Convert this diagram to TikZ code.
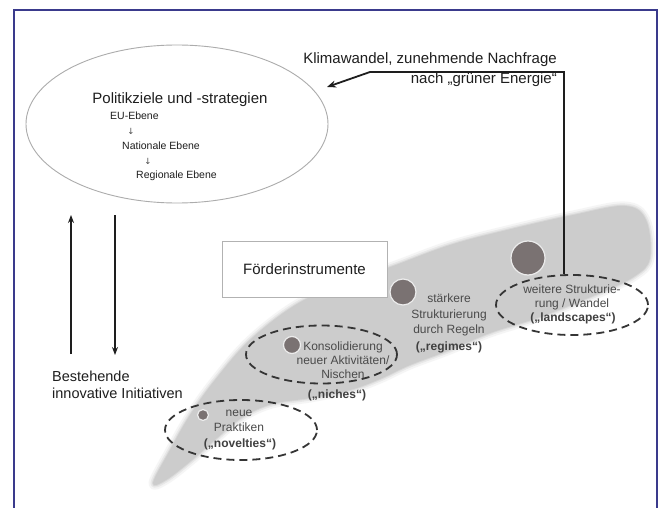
\documentclass[tikz,border=0pt]{standalone}
\usepackage{fontspec}
\setmainfont{Liberation Sans}
\newfontfamily\dejavu{DejaVu Sans}
\usetikzlibrary{arrows.meta,shapes.geometric}
\definecolor{framecol}{HTML}{3A3A8C}
\definecolor{swooshin}{HTML}{CCCCCC}
\definecolor{dotcol}{HTML}{7A7272}
\definecolor{txtdark}{HTML}{1E1E1E}
\definecolor{txtgray}{HTML}{4A4A4A}
\tikzset{
  bigtext/.style={font=\fontsize{15}{20}\selectfont, text=txtdark, inner sep=0pt},
  midtext/.style={font=\fontsize{10.5}{12}\selectfont, text=txtdark, inner sep=0pt},
  arrowglyph/.style={font=\dejavu\fontsize{8.5}{9}\selectfont, text=txtgray, inner sep=0pt},
  smalltext/.style={font=\fontsize{12}{14.5}\selectfont, text=txtgray, inner sep=0pt, align=center},
  boldtext/.style={font=\fontsize{12}{14.5}\selectfont\bfseries, text=txtdark!85, inner sep=0pt},
  dashell/.style={ellipse, draw=txtdark!90, line width=1.8pt, dash pattern=on 8pt off 5pt, inner sep=0pt},
  dotnode/.style={circle, fill=dotcol, draw=white!85!gray, line width=1.2pt, inner sep=0pt},
  thickarr/.style={line width=1.8pt, draw=txtdark, -{Stealth[length=9pt,width=7pt]}},
  vertarr/.style={line width=1.8pt, draw=txtdark, -{Stealth[length=8pt,width=6pt]}},
}
\def\swooshpath{plot[smooth cycle, tension=0.6] coordinates {
 (153,483) (170,450) (190,415) (215,380) (250,340) (297,304) (345,283)
 (393,266) (450,245) (507,230) (573,215) (625,206) (646,220) (650,258)
 (635,276) (600,293) (540,317) (490,333) (450,350) (410,365) (380,379)
 (350,390) (310,398) (272,404) (243,417) (217,438) (192,460) (166,480)}}
\begin{document}
\begin{tikzpicture}[x=1pt,y=-1pt]
\useasboundingbox (0,0) rectangle (661,508);
\fill[white] (0,0) rectangle (661,508);
% frame
\draw[framecol, line width=2pt] (14,509) -- (14,10) -- (657,10) -- (657,509);

% swoosh with soft edge
\draw[swooshin, line width=9pt, opacity=0.18, line join=round] \swooshpath;
\draw[swooshin, line width=5pt, opacity=0.3, line join=round] \swooshpath;
\draw[swooshin, line width=2pt, opacity=0.5, line join=round] \swooshpath;
\fill[swooshin] \swooshpath;

% policy ellipse
\node[ellipse, draw=gray!65, line width=0.9pt, minimum width=302pt, minimum height=158pt, inner sep=0pt] (pol) at (177,124) {};
\node[bigtext] (poltitle) at (180,100) {Politikziele und -strategien};
\node[midtext, anchor=west] (eu) at (110,116) {EU-Ebene};
\node[arrowglyph] (ar1) at (131,131) {↓};
\node[midtext, anchor=west] (nat) at (122,146) {Nationale Ebene};
\node[arrowglyph] (ar2) at (148,161) {↓};
\node[midtext, anchor=west] (reg) at (136,176) {Regionale Ebene};

% vertical arrows
\coordinate (upS) at (71,354);
\coordinate (upE) at (71,215);
\coordinate (dnS) at (115,215);
\coordinate (dnE) at (115,355);
\draw[vertarr] (upS) -- (upE);
\draw[vertarr] (dnS) -- (dnE);

\node[font=\fontsize{14.5}{17}\selectfont, text=txtdark, inner sep=0pt, align=left, anchor=west] (init) at (52,385) {Bestehende\\innovative Initiativen};

% Foerderinstrumente box
\node[draw=gray!60, line width=0.9pt, fill=white, minimum width=165pt, minimum height=56pt, inner sep=0pt, font=\fontsize{15}{18}\selectfont, text=txtdark] (foe) at (304.5,269) {Förderinstrumente};

% Klimawandel text
\node[bigtext, align=right, anchor=east] (klima) at (557,70) {Klimawandel, zunehmende Nachfrage\\nach „grüner Energie“};

% dashed ellipses
\node[dashell, minimum width=152pt, minimum height=60pt] (eNov) at (241,430) {};
\node[dashell, minimum width=151pt, minimum height=58pt] (eNic) at (321.5,354.5) {};
\node[dashell, minimum width=152pt, minimum height=60pt] (eLan) at (572,305) {};

% dots
\node[dotnode, minimum size=11pt] (dNov) at (203,415) {};
\node[dotnode, minimum size=17pt] (dNic) at (292,345) {};
\node[dotnode, minimum size=26pt] (dReg) at (403,292) {};
\node[dotnode, minimum size=34pt] (dLan) at (528,258) {};

% labels
\node[smalltext] (tNov) at (239,421) {neue\\Praktiken};
\node[boldtext] (bNov) at (240,444.5) {(„novelties“)};
\node[smalltext, font=\fontsize{12}{14}\selectfont] (tNic) at (343,360) {Konsolidierung\\neuer Aktivitäten/\\Nischen};
\node[boldtext] (bNic) at (337,395) {(„niches“)};
\node[smalltext, font=\fontsize{12}{15.2}\selectfont] (tReg) at (449,315) {stärkere\\Strukturierung\\durch Regeln};
\node[boldtext] (bReg) at (449,347) {(„regimes“)};
\node[smalltext, font=\fontsize{12}{14}\selectfont] (tLan) at (572,297) {weitere Strukturie-\\rung / Wandel};
\node[boldtext] (bLan) at (573,318) {(„landscapes“)};

% connector from landscapes to policy
\coordinate (kc1) at (564,72);
\coordinate (kc2) at (370,72);
\coordinate (ktip) at (327,87);
\draw[thickarr] (eLan.north -| kc1) -- (kc1) -- (kc2) -- (ktip);
\end{tikzpicture}
\end{document}
